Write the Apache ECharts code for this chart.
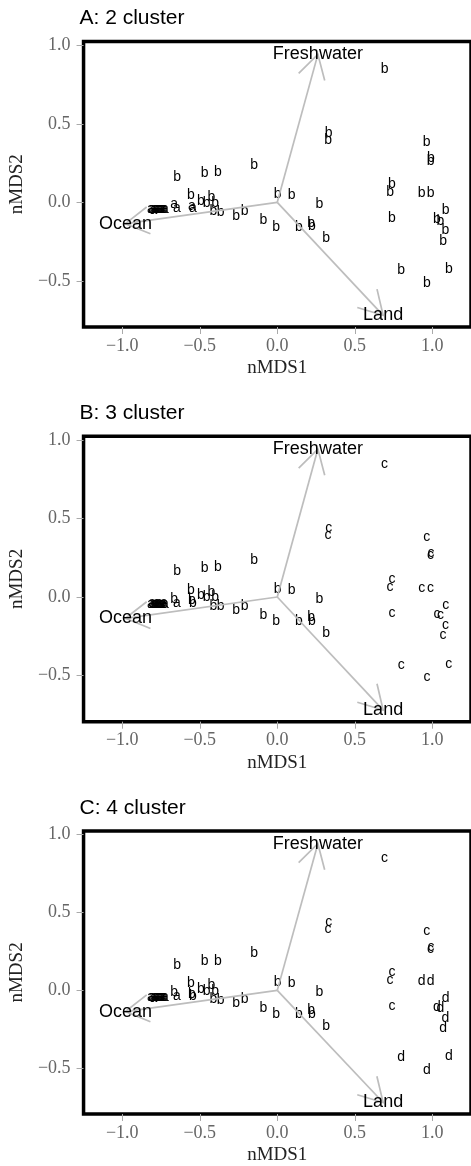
<!DOCTYPE html>
<html>
<head>
<meta charset="utf-8">
<script src="https://cdn.jsdelivr.net/npm/echarts@6/dist/echarts.min.js"></script>
<style>
html,body{margin:0;padding:0;background:#fff;}
#chart{width:471px;height:1166px;}
</style>
</head>
<body>
<div id="chart"></div>
<script>
// ---- data ----
const panelTitles = ['A: 2 cluster', 'B: 3 cluster', 'C: 4 cluster'];
const xTicks = [-1, -0.5, 0, 0.5, 1];
const yTicks = [-0.5, 0, 0.5, 1];

const nmds1 = [
  0.692, 0.332, 0.328, 0.964, 0.992, 0.989, 0.740, 0.728, 0.932, 0.989,
  0.740, 1.087, 1.030, 1.053, 1.085, 1.070, 0.800, 1.107, 0.966,
  0.002, 0.092, 0.272, -0.089, -0.008, 0.140, 0.219, 0.223, 0.315,
  -0.149, -0.383, -0.468, -0.646, -0.211, -0.265,
  -0.557, -0.493, -0.455, -0.425, -0.401, -0.412, -0.365,
  -0.551, -0.545, -0.665, -0.648,
  -0.815, -0.808, -0.800, -0.792, -0.785, -0.778, -0.770, -0.762,
  -0.755, -0.748, -0.740, -0.732, -0.725
];
const nmds2 = [
  0.847, 0.440, 0.393, 0.380, 0.280, 0.265, 0.115, 0.064, 0.057, 0.057,
  -0.102, -0.053, -0.106, -0.117, -0.176, -0.245, -0.431, -0.425, -0.512,
  0.051, 0.046, -0.011, -0.113, -0.155, -0.155, -0.130, -0.151, -0.229,
  0.236, 0.189, 0.185, 0.163, -0.055, -0.085,
  0.046, 0.010, -0.004, 0.033, -0.004, -0.056, -0.060,
  -0.022, -0.036, -0.014, -0.040,
  -0.046, -0.042, -0.047, -0.043, -0.046, -0.041, -0.045, -0.042,
  -0.046, -0.043, -0.045, -0.041, -0.044
];
const cluster2 = [
  'b','b','b','b','b','b','b','b','b','b',
  'b','b','b','b','b','b','b','b','b',
  'b','b','b','b','b','b','b','b','b',
  'b','b','b','b','b','b',
  'b','b','b','b','b','b','b',
  'a','a','a','a',
  'a','a','a','a','a','a','a','a','a','a','a','a','a'
];
const cluster3 = [
  'c','c','c','c','c','c','c','c','c','c',
  'c','c','c','c','c','c','c','c','c',
  'b','b','b','b','b','b','b','b','b',
  'b','b','b','b','b','b',
  'b','b','b','b','b','b','b',
  'b','b','b','a',
  'a','a','a','a','a','a','a','a','a','a','a','a','a'
];
const cluster4 = [
  'c','c','c','c','c','c','c','c','d','d',
  'c','d','d','d','d','d','d','d','d',
  'b','b','b','b','b','b','b','b','b',
  'b','b','b','b','b','b',
  'b','b','b','b','b','b','b',
  'b','b','b','a',
  'a','a','a','a','a','a','a','a','a','a','a','a','a'
];
const clusters = [cluster2, cluster3, cluster4];

const envNames = ['Ocean', 'Freshwater', 'Land'];
const envX = [-0.980, 0.262, 0.683];
const envY = [-0.136, 0.942, -0.720];

// ---- layout ----
const PANEL_STEP = 394.7;
const GRID_TOP = 41.5, GRID_LEFT = 81.3, GRID_W = 391.75, GRID_H = 285.5;
const SANS = '"Liberation Sans", Arial, sans-serif';
const SERIF = '"Liberation Serif", "Times New Roman", serif';
const fmt = v => (v < 0 ? '\u2212' : '') + Math.abs(v).toFixed(1);

const grids = [], xAxes = [], yAxes = [], titles = [], series = [];
for (let i = 0; i < 3; i++) {
  const top = GRID_TOP + i * PANEL_STEP;
  grids.push({left: GRID_LEFT, top: top, width: GRID_W, height: GRID_H,
    show: true, borderColor: '#000', borderWidth: 3.5, backgroundColor: 'transparent', containLabel: false});
  titles.push({text: panelTitles[i], left: 79.5, top: 8 + i * PANEL_STEP, padding: 0,
    textStyle: {fontFamily: SANS, fontSize: 21, fontWeight: 'normal', color: '#000'}});
  xAxes.push({type: 'value', gridIndex: i, min: -1.25, max: 1.25, position: 'bottom',
    axisLine: {show: false, onZero: false}, splitLine: {show: false},
    axisTick: {show: true, length: 7, customValues: xTicks, lineStyle: {color: '#aaa', width: 1}},
    axisLabel: {customValues: xTicks, formatter: fmt, color: '#666', fontFamily: SERIF, fontSize: 18, margin: 10},
    name: 'nMDS1', nameLocation: 'middle', nameGap: 32,
    nameTextStyle: {fontFamily: SERIF, fontSize: 19, color: '#222'}});
  yAxes.push({type: 'value', gridIndex: i, min: -0.794, max: 1.024, position: 'left',
    axisLine: {show: false, onZero: false}, splitLine: {show: false},
    axisTick: {show: true, length: 7, customValues: yTicks, lineStyle: {color: '#aaa', width: 1}},
    axisLabel: {customValues: yTicks, formatter: fmt, color: '#666', fontFamily: SERIF, fontSize: 18, margin: 13},
    name: 'nMDS2', nameLocation: 'middle', nameGap: 43,
    nameTextStyle: {fontFamily: SERIF, fontSize: 19, color: '#222'}});

  const lab = clusters[i];
  series.push({
    type: 'custom', xAxisIndex: i, yAxisIndex: i, z: 2,
    data: nmds1.map((x, j) => [x, nmds2[j]]),
    renderItem: function (params, api) {
      const p = api.coord([api.value(0), api.value(1)]);
      return {type: 'text', x: p[0], y: p[1],
        style: {text: lab[params.dataIndex], fill: '#000', font: '14px ' + SANS,
          align: 'center', verticalAlign: 'middle', textAlign: 'center', textVerticalAlign: 'middle'}};
    }
  });
  series.push({
    type: 'custom', xAxisIndex: i, yAxisIndex: i, z: 3,
    data: envX.map((x, j) => [x, envY[j]]),
    renderItem: function (params, api) {
      const o = api.coord([0, 0]);
      const t = api.coord([api.value(0), api.value(1)]);
      const ang = Math.atan2(t[1] - o[1], t[0] - o[0]);
      const L = 27, a = Math.PI / 6;
      const h1 = [t[0] - L * Math.cos(ang - a), t[1] - L * Math.sin(ang - a)];
      const h2 = [t[0] - L * Math.cos(ang + a), t[1] - L * Math.sin(ang + a)];
      const st = {stroke: '#bdbdbd', lineWidth: 1.7, fill: null};
      return {type: 'group', children: [
        {type: 'line', shape: {x1: o[0], y1: o[1], x2: t[0], y2: t[1]}, style: st},
        {type: 'polyline', shape: {points: [h1, t, h2]}, style: st}
      ]};
    }
  });
  series.push({
    type: 'custom', xAxisIndex: i, yAxisIndex: i, z: 4,
    data: envX.map((x, j) => [x, envY[j]]),
    renderItem: function (params, api) {
      const t = api.coord([api.value(0), api.value(1)]);
      return {type: 'text', x: t[0], y: t[1],
        style: {text: envNames[params.dataIndex], fill: '#000', font: '18px ' + SANS,
          align: 'center', verticalAlign: 'middle', textAlign: 'center', textVerticalAlign: 'middle'}};
    }
  });
}

const chart = echarts.init(document.getElementById('chart'), null, {renderer: 'canvas'});
chart.setOption({
  animation: false,
  backgroundColor: '#fff',
  title: titles,
  grid: grids,
  xAxis: xAxes,
  yAxis: yAxes,
  series: series
});
</script>
</body>
</html>
